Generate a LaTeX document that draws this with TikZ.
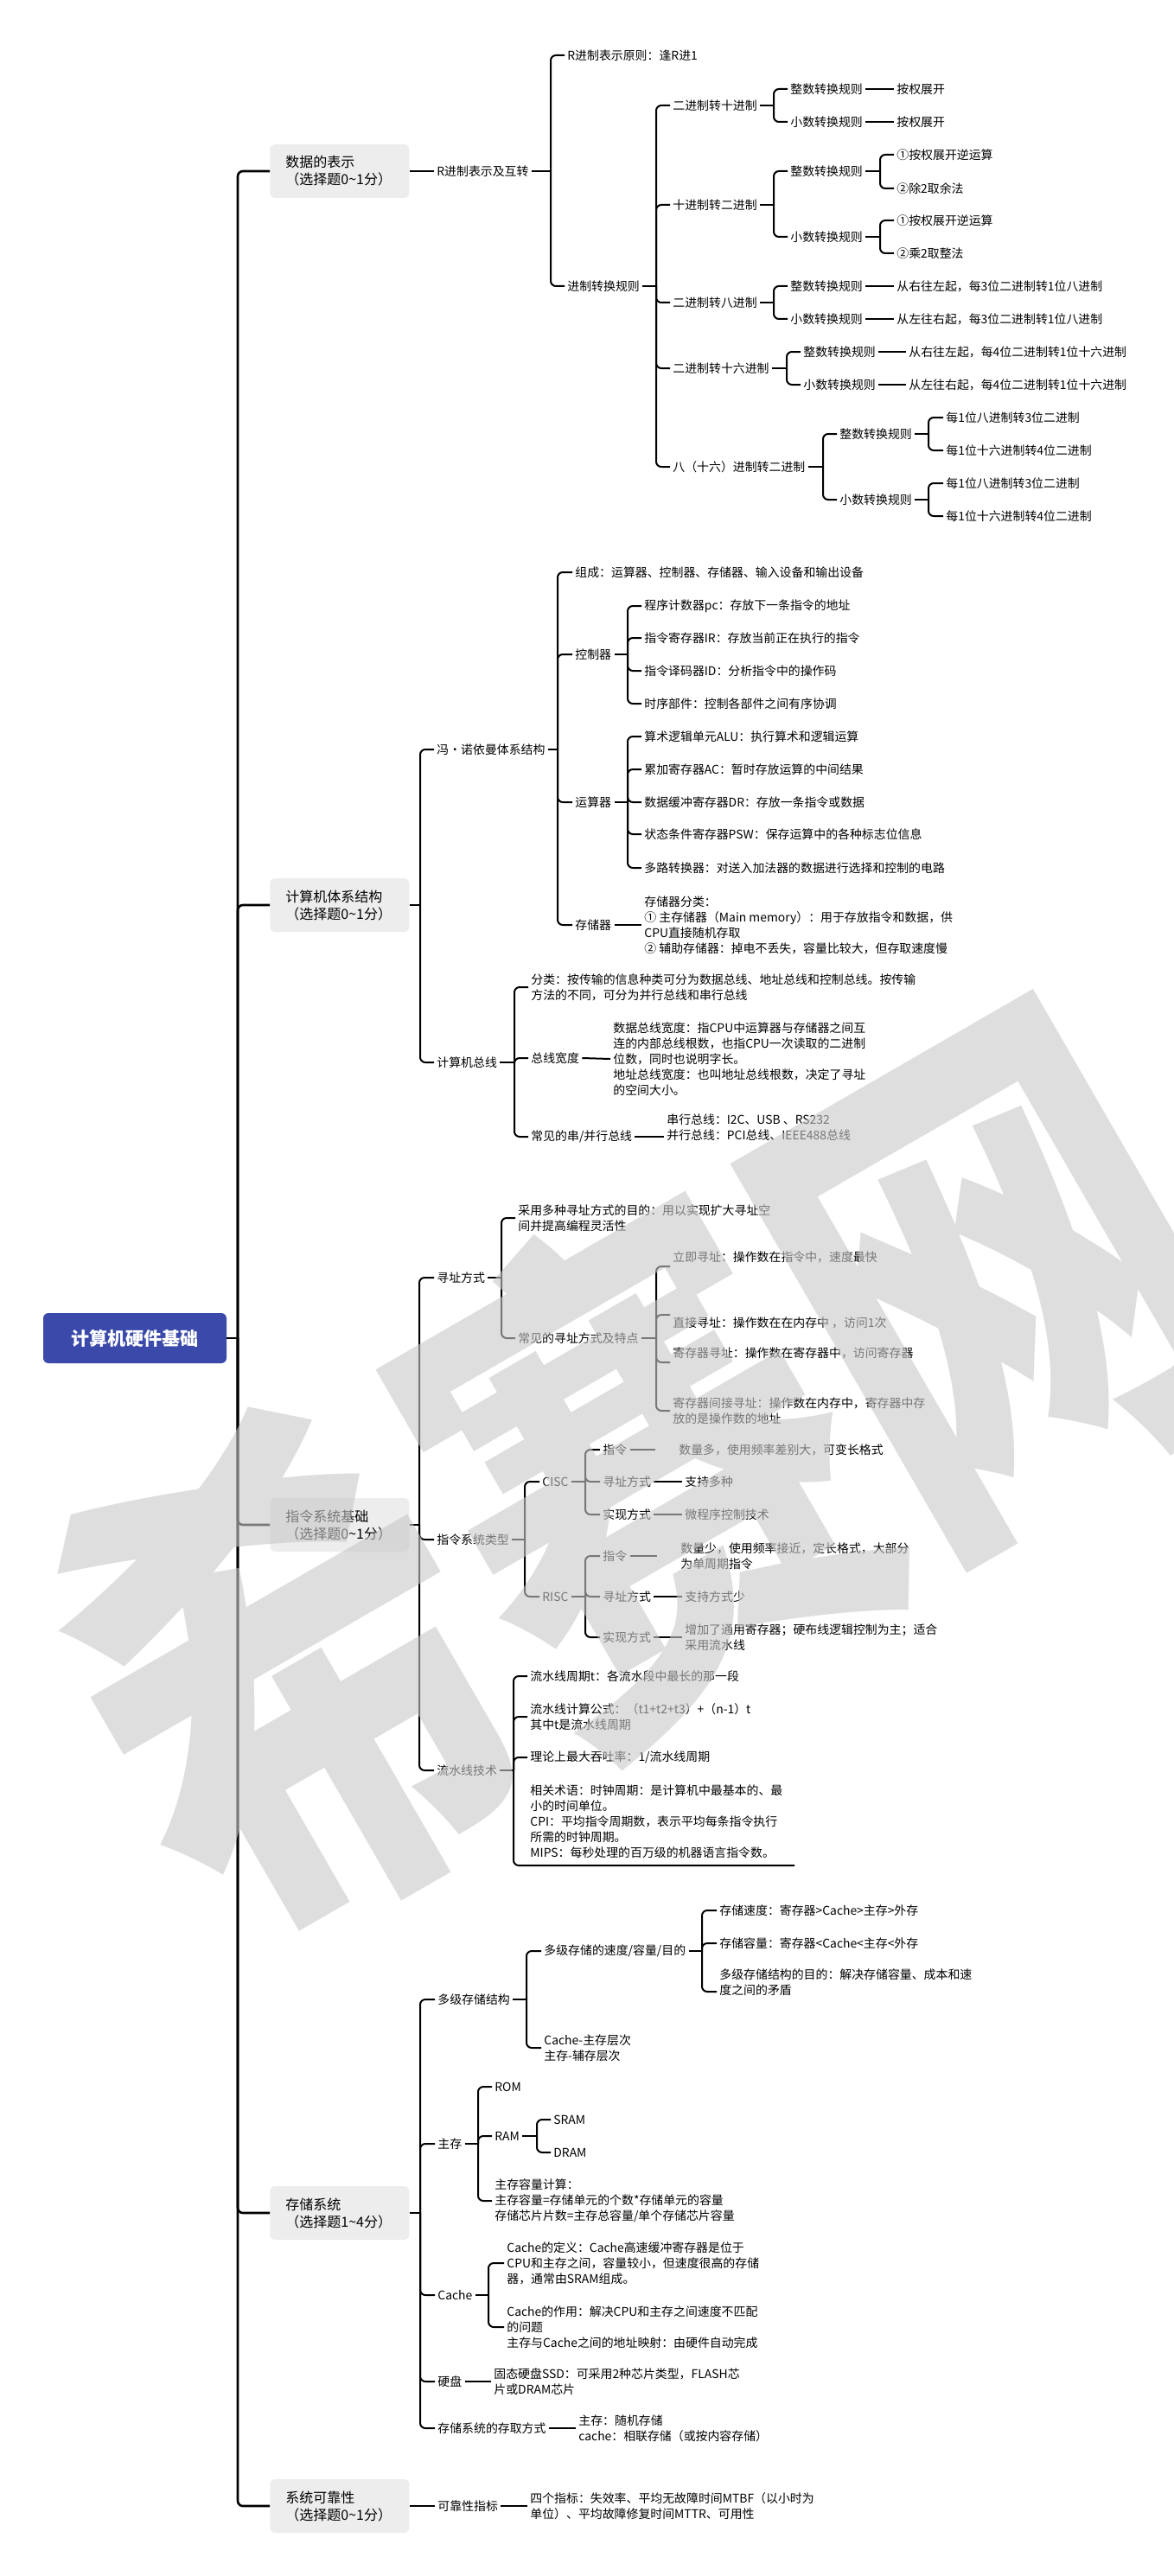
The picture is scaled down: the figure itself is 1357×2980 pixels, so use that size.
\documentclass[tikz,border=0pt]{standalone}
\usepackage{fontspec}
\newfontfamily\cjk{Noto Sans CJK SC}
\usetikzlibrary{calc}

\definecolor{rootblue}{RGB}{59,74,170}
\definecolor{boxgray}{RGB}{237,237,237}
\definecolor{wmgray}{RGB}{200,200,200}

\newcommand\bodyfont{\cjk\fontsize{6.95pt}{9pt}\selectfont}
\newcommand\boxfont{\cjk\fontsize{8pt}{10pt}\selectfont}
\newcommand\rootfont{\cjk\bfseries\fontsize{10.5pt}{12pt}\selectfont}
\newcommand\wmfont{\cjk\bfseries\fontsize{235pt}{235pt}\selectfont}

% parent, spine x, children: elbow connectors with rounded corners
\newcommand\fork[4][conn]{%
  \draw[#1] (#2.east) -- (#2.east -| #3,0);
  \foreach \ch in {#4}{\draw[#1,rounded corners=3pt] (#2.east -| #3,0) |- (\ch.west);}%
}

\tikzset{
  conn/.style={line width=1pt, draw=black},
  trunk/.style={line width=1.3pt, draw=black},
  tn/.style={anchor=west, xshift=-1.5pt, inner xsep=1.5pt, inner ysep=1pt,
             font=\bodyfont, align=left},
  cat/.style={anchor=west, rectangle, rounded corners=3pt, fill=boxgray,
              inner xsep=9pt, text width=62.5pt, minimum height=31pt,
              align=left, font=\boxfont},
  rootn/.style={rectangle, rounded corners=3pt, fill=rootblue, text=white,
                minimum width=106pt, minimum height=29pt, font=\rootfont},
}

\begin{document}
\begin{tikzpicture}[x=0.5pt,y=-0.5pt]
\fill[white] (0,0) rectangle (1357,2980);
\useasboundingbox (0,0) rectangle (1357,2980);

% ---------- root and main categories ----------
\node[rootn] (r) at (156,1548) {计算机硬件基础};
\node[cat] (b1) at (312,198)  {数据的表示\\（选择题0\textasciitilde1分）};
\node[cat] (b2) at (312,1047) {计算机体系结构\\（选择题0\textasciitilde1分）};
\node[cat] (b3) at (312,1764) {指令系统基础\\（选择题0\textasciitilde1分）};
\node[cat] (b4) at (312,2560) {存储系统\\（选择题1\textasciitilde4分）};
\node[cat] (b5) at (312,2899) {系统可靠性\\（选择题0\textasciitilde1分）};
\fork[trunk]{r}{275}{b1,b2,b3,b4,b5}

% ---------- 数据的表示 ----------
\node[tn] (a)  at (505,198) {R进制表示及互转};
\node[tn] (a1) at (656,64)  {R进制表示原则：逢R进1};
\node[tn] (a2) at (656,331) {进制转换规则};
\node[tn] (c1) at (778,122) {二进制转十进制};
\node[tn] (c2) at (778,237) {十进制转二进制};
\node[tn] (c3) at (778,350) {二进制转八进制};
\node[tn] (c4) at (778,426) {二进制转十六进制};
\node[tn] (c5) at (778,540) {八（十六）进制转二进制};
\node[tn] (c1z)  at (914,103)  {整数转换规则};
\node[tn] (c1x)  at (914,141)  {小数转换规则};
\node[tn] (c1zl) at (1037,103) {按权展开};
\node[tn] (c1xl) at (1037,141) {按权展开};
\node[tn] (c2z)  at (914,198)  {整数转换规则};
\node[tn] (c2x)  at (914,274)  {小数转换规则};
\node[tn] (c2z1) at (1037,179) {①按权展开逆运算};
\node[tn] (c2z2) at (1037,218) {②除2取余法};
\node[tn] (c2x1) at (1037,255) {①按权展开逆运算};
\node[tn] (c2x2) at (1037,293) {②乘2取整法};
\node[tn] (c3z)  at (914,331)  {整数转换规则};
\node[tn] (c3x)  at (914,369)  {小数转换规则};
\node[tn] (c3zl) at (1037,331) {从右往左起，每3位二进制转1位八进制};
\node[tn] (c3xl) at (1037,369) {从左往右起，每3位二进制转1位八进制};
\node[tn] (c4z)  at (929,407)  {整数转换规则};
\node[tn] (c4x)  at (929,445)  {小数转换规则};
\node[tn] (c4zl) at (1051,407) {从右往左起，每4位二进制转1位十六进制};
\node[tn] (c4xl) at (1051,445) {从左往右起，每4位二进制转1位十六进制};
\node[tn] (c5z)  at (971,502)  {整数转换规则};
\node[tn] (c5x)  at (971,578)  {小数转换规则};
\node[tn] (c5z1) at (1094,483) {每1位八进制转3位二进制};
\node[tn] (c5z2) at (1094,521) {每1位十六进制转4位二进制};
\node[tn] (c5x1) at (1094,559) {每1位八进制转3位二进制};
\node[tn] (c5x2) at (1094,597) {每1位十六进制转4位二进制};

\draw[conn] (b1.east) -- (a.west);
\fork{a}{637}{a1,a2}
\fork{a2}{759}{c1,c2,c3,c4,c5}
\fork{c1}{895}{c1z,c1x}
\draw[conn] (c1z.east) -- (c1zl.west);
\draw[conn] (c1x.east) -- (c1xl.west);
\fork{c2}{895}{c2z,c2x}
\fork{c2z}{1018}{c2z1,c2z2}
\fork{c2x}{1018}{c2x1,c2x2}
\fork{c3}{895}{c3z,c3x}
\draw[conn] (c3z.east) -- (c3zl.west);
\draw[conn] (c3x.east) -- (c3xl.west);
\fork{c4}{910}{c4z,c4x}
\draw[conn] (c4z.east) -- (c4zl.west);
\draw[conn] (c4x.east) -- (c4xl.west);
\fork{c5}{952}{c5z,c5x}
\fork{c5z}{1074}{c5z1,c5z2}
\fork{c5x}{1074}{c5x1,c5x2}

% ---------- 计算机体系结构 ----------
\node[tn] (d1) at (505,867)  {冯·诺依曼体系结构};
\node[tn] (d2) at (505,1229) {计算机总线};
\node[tn] (e1) at (665,662)  {组成：运算器、控制器、存储器、输入设备和输出设备};
\node[tn] (e2) at (665,757)  {控制器};
\node[tn] (e3) at (665,928)  {运算器};
\node[tn] (e4) at (665,1070) {存储器};
\node[tn] (e21) at (745,701) {程序计数器pc：存放下一条指令的地址};
\node[tn] (e22) at (745,738) {指令寄存器IR：存放当前正在执行的指令};
\node[tn] (e23) at (745,776) {指令译码器ID：分析指令中的操作码};
\node[tn] (e24) at (745,814) {时序部件：控制各部件之间有序协调};
\node[tn] (e31) at (745,852)  {算术逻辑单元ALU：执行算术和逻辑运算};
\node[tn] (e32) at (745,890)  {累加寄存器AC：暂时存放运算的中间结果};
\node[tn] (e33) at (745,928)  {数据缓冲寄存器DR：存放一条指令或数据};
\node[tn] (e34) at (745,965)  {状态条件寄存器PSW：保存运算中的各种标志位信息};
\node[tn] (e35) at (745,1004) {多路转换器：对送入加法器的数据进行选择和控制的电路};
\node[tn] (e4l) at (745,1070) {存储器分类：\\① 主存储器（Main memory）：用于存放指令和数据，供\\CPU直接随机存取\\② 辅助存储器：掉电不丢失，容量比较大，但存取速度慢};
\node[tn] (f1) at (614,1142) {分类：按传输的信息种类可分为数据总线、地址总线和控制总线。按传输\\方法的不同，可分为并行总线和串行总线};
\node[tn] (f2) at (614,1224) {总线宽度};
\node[tn] (f3) at (614,1315) {常见的串/并行总线};
\node[tn] (f2l) at (709,1225) {数据总线宽度：指CPU中运算器与存储器之间互\\连的内部总线根数，也指CPU一次读取的二进制\\位数，同时也说明字长。\\地址总线宽度：也叫地址总线根数，决定了寻址\\的空间大小。};
\node[tn] (f3l) at (771,1315) {串行总线：I2C、USB 、RS232\\并行总线：PCI总线、IEEE488总线\\\strut};

\fork{b2}{486}{d1,d2}
\fork{d1}{645}{e1,e2,e3,e4}
\fork{e2}{726}{e21,e22,e23,e24}
\fork{e3}{726}{e31,e32,e33,e34,e35}
\draw[conn] (e4.east) -- (e4l.west);
\fork{d2}{595}{f1,f2,f3}
\draw[conn] (f2.east) -- (f2l.west);
\draw[conn] (f3.east) -- (f3l.west);

% ---------- 指令系统基础 ----------
\node[tn] (g1) at (505,1478) {寻址方式};
\node[tn] (g2) at (505,1781) {指令系统类型};
\node[tn] (g3) at (505,2048) {流水线技术};
\node[tn] (h1) at (599,1409) {采用多种寻址方式的目的：用以实现扩大寻址空\\间并提高编程灵活性};
\node[tn] (h2) at (599,1548) {常见的寻址方式及特点};
\node[tn] (i1) at (778,1465) {立即寻址：操作数在指令中，速度最快\\\strut};
\node[tn] (i2) at (778,1521) {\strut\\直接寻址：操作数在在内存中 ，访问1次};
\node[tn] (i3) at (778,1576) {寄存器寻址：操作数在寄存器中，访问寄存器\\\strut};
\node[tn] (i4) at (778,1632) {寄存器间接寻址：操作数在内存中，寄存器中存\\放的是操作数的地址};
\node[tn] (j1) at (627,1714) {CISC};
\node[tn] (j2) at (627,1847) {RISC};
\node[tn] (k1) at (697,1677) {指令};
\node[tn] (k2) at (697,1714) {寻址方式};
\node[tn] (k3) at (697,1752) {实现方式};
\node[tn] (k1l) at (785,1677) {数量多，使用频率差别大，可变长格式};
\node[tn] (k2l) at (792,1714) {支持多种};
\node[tn] (k3l) at (792,1752) {微程序控制技术};
\node[tn] (l1) at (697,1800) {指令};
\node[tn] (l2) at (697,1847) {寻址方式};
\node[tn] (l3) at (697,1894) {实现方式};
\node[tn] (l1l) at (787,1800) {数量少，使用频率接近，定长格式，大部分\\为单周期指令};
\node[tn] (l2l) at (792,1847) {支持方式少};
\node[tn] (l3l) at (792,1894) {增加了通用寄存器；硬布线逻辑控制为主；适合\\采用流水线};
\node[tn] (m1) at (613,1939) {流水线周期t：各流水段中最长的那一段};
\node[tn] (m2) at (613,1986) {流水线计算公式：（t1+t2+t3）+（n-1）t\\其中t是流水线周期};
\node[tn] (m3) at (613,2033) {理论上最大吞吐率：1/流水线周期};
\node[tn] (m4) at (613,2107) {相关术语：时钟周期：是计算机中最基本的、最\\小的时间单位。\\CPI：平均指令周期数，表示平均每条指令执行\\所需的时钟周期。\\MIPS：每秒处理的百万级的机器语言指令数。};
\coordinate (m4u) at (919,2158);

\fork{b3}{485}{g1,g2,g3}
\fork{g1}{580}{h1,h2}
\fork{h2}{759}{i1,i2,i3,i4}
\fork{g2}{607}{j1,j2}
\fork{j1}{677}{k1,k2,k3}
\fork{j2}{677}{l1,l2,l3}
\draw[conn, shorten >=12pt] (k1.east) -- (k1l.west);
\draw[conn] (k2.east) -- (k2l.west);
\draw[conn] (k3.east) -- (k3l.west);
\draw[conn, shorten >=12pt] (l1.east) -- (l1l.west);
\draw[conn] (l2.east) -- (l2l.west);
\draw[conn] (l3.east) -- (l3l.west);
\fork{g3}{594}{m1,m2,m3}
\draw[conn, rounded corners=3pt] (g3.east -| 594,0) |- (m4u);

% ---------- 存储系统 ----------
\node[tn] (n1) at (506,2313) {多级存储结构};
\node[tn] (n2) at (506,2480) {主存};
\node[tn] (n3) at (506,2655) {Cache};
\node[tn] (n4) at (506,2755) {硬盘};
\node[tn] (n5) at (506,2809) {存储系统的存取方式};
\node[tn] (o1) at (629,2257) {多级存储的速度/容量/目的};
\node[tn] (o2) at (629,2369) {Cache-主存层次\\主存-辅存层次};
\node[tn] (p1) at (832,2210) {存储速度：寄存器>Cache>主存>外存};
\node[tn] (p2) at (832,2248) {存储容量：寄存器<Cache<主存<外存};
\node[tn] (p3) at (832,2304) {多级存储结构的目的：解决存储容量、成本和速\\度之间的矛盾\\\strut};
\node[tn] (q1) at (572,2414) {ROM};
\node[tn] (q2) at (572,2471) {RAM};
\node[tn] (q3) at (572,2546) {主存容量计算：\\主存容量=存储单元的个数*存储单元的容量\\存储芯片片数=主存总容量/单个存储芯片容量};
\node[tn] (q2a) at (640,2452) {SRAM};
\node[tn] (q2b) at (640,2490) {DRAM};
\node[tn] (r1) at (586,2618) {Cache的定义：Cache高速缓冲寄存器是位于\\CPU和主存之间，容量较小，但速度很高的存储\\器，通常由SRAM组成。};
\node[tn] (r2) at (586,2692) {Cache的作用：解决CPU和主存之间速度不匹配\\的问题\\主存与Cache之间的地址映射：由硬件自动完成};
\node[tn] (n4l) at (571,2755) {固态硬盘SSD：可采用2种芯片类型，FLASH芯\\片或DRAM芯片};
\node[tn] (n5l) at (669,2809) {主存：随机存储\\cache：相联存储（或按内容存储）};

\fork{b4}{486}{n1,n2,n3,n4,n5}
\fork{n1}{609}{o1,o2}
\fork{o1}{812}{p1,p2,p3}
\fork{n2}{553}{q1,q2,q3}
\fork{q2}{621}{q2a,q2b}
\fork{n3}{565}{r1,r2}
\draw[conn] (n4.east) -- (n4l.west);
\draw[conn] (n5.east) -- (n5l.west);

% ---------- 系统可靠性 ----------
\node[tn] (s1) at (506,2899) {可靠性指标};
\node[tn] (s1l) at (613,2899) {四个指标：失效率、平均无故障时间MTBF（以小时为\\单位）、平均故障修复时间MTTR、可用性};
\draw[conn] (b5.east) -- (s1.west);
\draw[conn] (s1.east) -- (s1l.west);

% ---------- watermark ----------
\node[rotate=30, yscale=1.3, text=wmgray, opacity=0.6, font=\wmfont] (wm) at (740,1700) {希赛网};
\end{tikzpicture}
\end{document}
